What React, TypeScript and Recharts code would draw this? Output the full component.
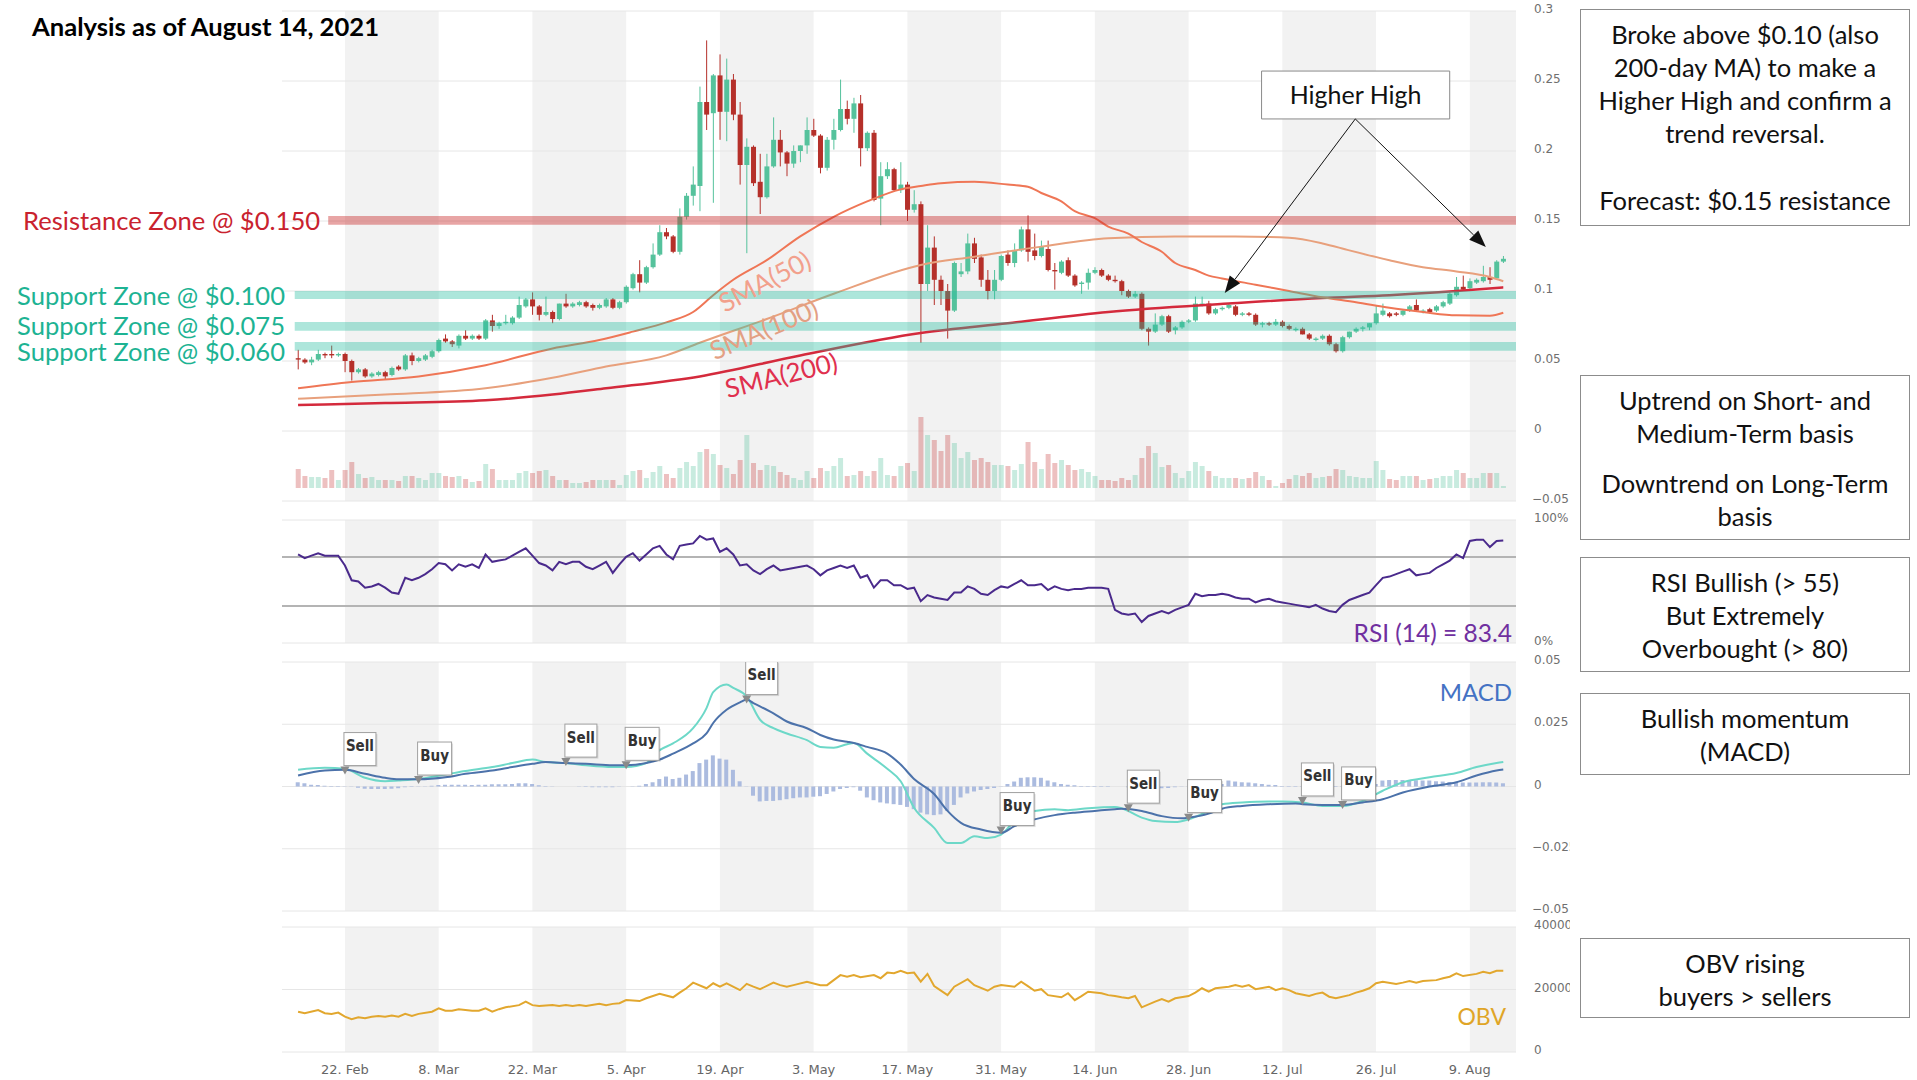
import React from "react";
import {
  ComposedChart,
  Bar,
  Line,
  XAxis,
  YAxis,
  CartesianGrid,
  ReferenceArea,
  ReferenceLine,
  Scatter,
} from "recharts";

// day index 0 = 15 Feb 2021, last candle = 14 Aug 2021
const tickDays = [7, 21, 35, 49, 63, 77, 91, 105, 119, 133, 147, 161, 175];
const tickLabels = ["22. Feb", "8. Mar", "22. Mar", "5. Apr", "19. Apr", "3. May", "17. May", "31. May", "14. Jun", "28. Jun", "12. Jul", "26. Jul", "9. Aug"];

const open = [
  0.052, 0.051, 0.049, 0.051, 0.055, 0.055, 0.054, 0.055, 0.050, 0.042, 0.044, 0.039, 0.040, 0.042,
  0.040, 0.046, 0.044, 0.054, 0.050, 0.051, 0.053, 0.057, 0.066, 0.064, 0.061, 0.068, 0.066, 0.068, 0.066, 0.079, 0.075, 0.077, 0.077, 0.081, 0.089, 0.094, 0.089, 0.083, 0.085, 0.080, 0.091, 0.089, 0.090, 0.092, 0.090,
  0.088, 0.089, 0.094, 0.088, 0.092, 0.102, 0.112, 0.106, 0.117, 0.126, 0.142, 0.139, 0.128, 0.153, 0.168, 0.175, 0.235, 0.227, 0.254, 0.228, 0.251, 0.226, 0.190, 0.203, 0.178, 0.167, 0.189, 0.208, 0.199, 0.191,
  0.200, 0.204, 0.215, 0.211, 0.188, 0.208, 0.215, 0.230, 0.223, 0.234, 0.202, 0.213, 0.166, 0.182, 0.187, 0.172, 0.176, 0.158, 0.162, 0.105, 0.131, 0.108, 0.100, 0.086, 0.112, 0.114, 0.134, 0.124, 0.108, 0.100, 0.108,
  0.126, 0.120, 0.129, 0.144, 0.129, 0.125, 0.130, 0.115, 0.113, 0.122, 0.111, 0.105, 0.106, 0.113, 0.115, 0.111, 0.108, 0.107, 0.100, 0.096, 0.098, 0.073, 0.071, 0.076, 0.082, 0.072, 0.074, 0.078, 0.079, 0.090,
  0.091, 0.084, 0.087, 0.088, 0.089, 0.083, 0.084, 0.083, 0.076, 0.077, 0.076, 0.078, 0.075, 0.072, 0.073, 0.069, 0.065, 0.066, 0.068, 0.062, 0.057, 0.067, 0.071, 0.073, 0.074, 0.077, 0.083, 0.084, 0.084, 0.083, 0.086,
  0.090, 0.085, 0.087, 0.086, 0.089, 0.091, 0.097, 0.103, 0.102, 0.106, 0.107, 0.110, 0.109, 0.121,
];
const high = [
  0.058, 0.052, 0.053, 0.058, 0.056, 0.061, 0.056, 0.056, 0.051, 0.045, 0.045, 0.042, 0.043, 0.043,
  0.046, 0.047, 0.055, 0.056, 0.053, 0.055, 0.058, 0.066, 0.069, 0.065, 0.069, 0.072, 0.069, 0.069, 0.080, 0.083, 0.078, 0.083, 0.082, 0.096, 0.095, 0.099, 0.090, 0.096, 0.086, 0.091, 0.098, 0.092, 0.093, 0.093, 0.091,
  0.091, 0.095, 0.095, 0.093, 0.104, 0.113, 0.122, 0.118, 0.134, 0.147, 0.145, 0.140, 0.159, 0.170, 0.189, 0.246, 0.279, 0.255, 0.269, 0.266, 0.255, 0.235, 0.209, 0.204, 0.198, 0.198, 0.224, 0.215, 0.200, 0.204,
  0.204, 0.224, 0.223, 0.212, 0.210, 0.223, 0.251, 0.236, 0.238, 0.240, 0.214, 0.215, 0.192, 0.192, 0.188, 0.192, 0.178, 0.172, 0.164, 0.147, 0.139, 0.111, 0.105, 0.121, 0.120, 0.141, 0.138, 0.126, 0.115, 0.115, 0.126,
  0.129, 0.134, 0.146, 0.154, 0.141, 0.136, 0.136, 0.120, 0.122, 0.124, 0.112, 0.107, 0.116, 0.117, 0.116, 0.112, 0.111, 0.108, 0.101, 0.100, 0.099, 0.074, 0.084, 0.083, 0.083, 0.075, 0.079, 0.080, 0.096, 0.096,
  0.093, 0.088, 0.089, 0.091, 0.090, 0.085, 0.085, 0.084, 0.078, 0.078, 0.080, 0.079, 0.076, 0.074, 0.074, 0.070, 0.067, 0.069, 0.069, 0.063, 0.068, 0.071, 0.074, 0.075, 0.077, 0.090, 0.091, 0.085, 0.085, 0.087, 0.090,
  0.094, 0.087, 0.088, 0.090, 0.093, 0.099, 0.110, 0.111, 0.109, 0.109, 0.118, 0.117, 0.122, 0.125,
];
const low = [
  0.044, 0.048, 0.047, 0.050, 0.052, 0.052, 0.053, 0.042, 0.036, 0.041, 0.038, 0.038, 0.039, 0.037,
  0.039, 0.043, 0.043, 0.047, 0.049, 0.050, 0.052, 0.056, 0.063, 0.060, 0.059, 0.065, 0.065, 0.065, 0.065, 0.071, 0.073, 0.076, 0.076, 0.080, 0.088, 0.083, 0.079, 0.082, 0.077, 0.079, 0.088, 0.088, 0.089, 0.088, 0.086,
  0.087, 0.088, 0.087, 0.087, 0.091, 0.101, 0.099, 0.105, 0.116, 0.125, 0.137, 0.127, 0.126, 0.151, 0.161, 0.157, 0.215, 0.163, 0.208, 0.207, 0.222, 0.176, 0.127, 0.175, 0.155, 0.166, 0.188, 0.189, 0.182, 0.188,
  0.192, 0.198, 0.210, 0.184, 0.186, 0.201, 0.214, 0.219, 0.213, 0.189, 0.200, 0.164, 0.147, 0.180, 0.171, 0.170, 0.150, 0.156, 0.063, 0.100, 0.090, 0.090, 0.066, 0.085, 0.110, 0.112, 0.120, 0.103, 0.094, 0.094, 0.107,
  0.118, 0.117, 0.128, 0.121, 0.122, 0.124, 0.114, 0.101, 0.112, 0.110, 0.103, 0.098, 0.101, 0.112, 0.110, 0.107, 0.106, 0.097, 0.095, 0.095, 0.072, 0.061, 0.070, 0.075, 0.070, 0.069, 0.073, 0.077, 0.078, 0.089,
  0.083, 0.083, 0.086, 0.087, 0.082, 0.082, 0.082, 0.075, 0.074, 0.075, 0.075, 0.074, 0.072, 0.071, 0.069, 0.065, 0.064, 0.065, 0.061, 0.056, 0.056, 0.066, 0.070, 0.071, 0.072, 0.076, 0.082, 0.081, 0.082, 0.082, 0.085,
  0.085, 0.084, 0.084, 0.085, 0.088, 0.090, 0.096, 0.100, 0.101, 0.105, 0.106, 0.105, 0.108, 0.120,
];
const close = [
  0.051, 0.049, 0.051, 0.055, 0.054, 0.054, 0.055, 0.050, 0.042, 0.044, 0.039, 0.041, 0.042, 0.039,
  0.045, 0.044, 0.054, 0.050, 0.052, 0.054, 0.057, 0.065, 0.064, 0.062, 0.068, 0.066, 0.068, 0.066, 0.079, 0.075, 0.077, 0.078, 0.081, 0.090, 0.094, 0.089, 0.083, 0.085, 0.080, 0.091, 0.089, 0.091, 0.092, 0.089, 0.088,
  0.090, 0.094, 0.088, 0.092, 0.103, 0.112, 0.106, 0.117, 0.126, 0.142, 0.139, 0.128, 0.153, 0.168, 0.176, 0.235, 0.226, 0.254, 0.228, 0.251, 0.226, 0.190, 0.203, 0.177, 0.167, 0.189, 0.208, 0.199, 0.191, 0.200,
  0.204, 0.215, 0.211, 0.188, 0.208, 0.215, 0.230, 0.223, 0.234, 0.202, 0.213, 0.165, 0.182, 0.187, 0.172, 0.176, 0.158, 0.162, 0.105, 0.131, 0.108, 0.100, 0.086, 0.120, 0.114, 0.134, 0.123, 0.108, 0.100, 0.108, 0.125,
  0.120, 0.129, 0.144, 0.128, 0.125, 0.132, 0.115, 0.114, 0.121, 0.111, 0.104, 0.106, 0.113, 0.115, 0.111, 0.108, 0.107, 0.100, 0.096, 0.098, 0.073, 0.071, 0.076, 0.082, 0.071, 0.074, 0.078, 0.079, 0.091, 0.091,
  0.084, 0.087, 0.088, 0.090, 0.083, 0.084, 0.083, 0.076, 0.077, 0.076, 0.078, 0.075, 0.073, 0.073, 0.069, 0.066, 0.066, 0.068, 0.062, 0.057, 0.067, 0.071, 0.073, 0.074, 0.077, 0.084, 0.086, 0.082, 0.083, 0.086, 0.089,
  0.086, 0.086, 0.085, 0.089, 0.092, 0.098, 0.103, 0.101, 0.107, 0.108, 0.110, 0.108, 0.121, 0.123,
];
// volume, relative units
const volume = [
  19, 12, 11, 11, 10, 18, 8, 18, 26, 14, 10, 11, 8, 8,
  8, 7, 12, 12, 10, 8, 15, 15, 12, 11, 12, 9, 6, 7, 24, 19, 8, 8, 8, 15, 17, 15, 17, 18, 12, 8, 8, 5, 5, 6, 8,
  8, 8, 8, 3, 13, 17, 18, 10, 16, 22, 14, 10, 20, 26, 22, 36, 39, 34, 23, 20, 14, 28, 53, 25, 18, 23, 22, 16, 13, 10,
  8, 17, 10, 20, 17, 22, 30, 12, 13, 17, 12, 17, 30, 13, 12, 22, 25, 17, 71, 53, 48, 37, 53, 45, 30, 36, 28, 30, 26, 23, 23,
  22, 18, 24, 46, 26, 19, 34, 25, 28, 23, 18, 19, 16, 12, 8, 8, 7, 10, 8, 13, 30, 42, 35, 21, 23, 15, 10, 17, 26, 22,
  17, 12, 10, 10, 10, 9, 10, 16, 12, 8, 2, 5, 9, 13, 12, 15, 10, 11, 12, 19, 18, 12, 11, 10, 10, 27, 18, 9, 8, 12, 12,
  12, 8, 9, 10, 12, 12, 18, 15, 10, 10, 15, 15, 15, 2,
];

const sma50 = [
  [0, 0.0305], [8, 0.035], [18, 0.039], [28, 0.047], [38, 0.059], [45, 0.065], [50, 0.071], [55, 0.0776], [59, 0.085],
  [62, 0.097], [65, 0.108], [70, 0.122], [75, 0.139], [80, 0.153], [85, 0.164], [90, 0.1726], [93, 0.175], [96, 0.177],
  [101, 0.178], [106, 0.176], [109, 0.1745], [111, 0.17], [114, 0.164], [116, 0.157], [119, 0.152], [121, 0.146],
  [124, 0.141], [126, 0.135], [129, 0.128], [131, 0.12], [134, 0.115], [136, 0.111], [138, 0.109], [143, 0.1045],
  [148, 0.1], [153, 0.0955], [158, 0.092], [163, 0.088], [168, 0.085], [173, 0.0826], [178, 0.0824], [180, 0.0845],
];
const sma100 = [
  [0, 0.023], [13, 0.026], [28, 0.0305], [38, 0.038], [46, 0.046], [55, 0.054], [60, 0.063], [70, 0.08], [80, 0.098],
  [93, 0.1186], [101, 0.1245], [111, 0.1317], [121, 0.1376], [131, 0.139], [140, 0.139], [148, 0.138], [153, 0.134],
  [157, 0.129], [163, 0.122], [168, 0.117], [173, 0.114], [178, 0.11], [180, 0.107],
];
const sma200 = [
  [0, 0.0186], [13, 0.02], [28, 0.022], [38, 0.026], [46, 0.0305], [60, 0.039], [75, 0.054], [93, 0.07], [106, 0.077],
  [121, 0.085], [139, 0.091], [153, 0.095], [163, 0.097], [173, 0.1], [180, 0.1026],
];

const rsi = [
  72, 69, 71, 73, 71, 71, 71, 63, 51, 50, 45, 46, 48, 45,
  41, 40, 53, 51, 53, 56, 60, 65, 64, 59, 64, 62, 64, 61, 72, 66, 67, 68, 71, 74, 77, 71, 65, 63, 59, 66, 64, 66, 66, 62, 60,
  63, 66, 57, 64, 70, 73, 67, 72, 77, 79, 72, 68, 79, 80, 81, 87, 84, 85, 74, 77, 72, 63, 64, 59, 56, 60, 63, 59, 60, 61,
  62, 63, 60, 55, 59, 61, 63, 61, 63, 53, 55, 45, 51, 51, 47, 47, 44, 45, 34, 39, 37, 36, 35, 41, 41, 46, 44, 40, 39, 43, 46,
  45, 48, 51, 47, 47, 48, 43, 46, 44, 43, 44, 44, 45, 45, 45, 44, 27, 24, 23, 24, 17, 22, 24, 26, 24, 27, 29, 31, 40, 38,
  39, 39, 40, 39, 37, 36, 36, 33, 35, 36, 34, 33, 32, 31, 30, 29, 31, 28, 26, 25, 31, 35, 37, 39, 41, 47, 53, 54, 56, 58, 60,
  55, 56, 57, 61, 64, 67, 72, 69, 83, 84, 84, 78, 83, 83.4,
];

const macd = [
  [0, 0.0067], [4, 0.0075], [7, 0.0071], [10, 0.0035], [13, 0.0021], [15, 0.0024], [18, 0.003], [22, 0.0048], [25, 0.0062],
  [29, 0.0078], [32, 0.0094], [35, 0.0108], [37, 0.0098], [40, 0.0094], [43, 0.0085], [47, 0.0078], [49, 0.0078], [52, 0.0094],
  [54, 0.0146], [56, 0.0173], [59, 0.0234], [61, 0.0315], [62, 0.0379], [64, 0.041], [65, 0.0396], [67, 0.0362], [69, 0.0268],
  [71, 0.0234], [73, 0.0213], [76, 0.0186], [78, 0.0159], [80, 0.0156], [82, 0.017], [83, 0.0175], [85, 0.0132], [88, 0.0071],
  [90, 0.0021], [92, -0.0085], [95, -0.0166], [97, -0.0227], [99, -0.0227], [101, -0.02], [103, -0.0207], [105, -0.0193],
  [107, -0.0139], [110, -0.0098], [113, -0.0091], [115, -0.0095], [118, -0.0087], [122, -0.0082], [123, -0.0087], [126, -0.0125],
  [128, -0.0139], [131, -0.0143], [133, -0.0132], [136, -0.0098], [138, -0.0071], [141, -0.0064], [145, -0.006], [147, -0.006],
  [150, -0.0064], [153, -0.0078], [156, -0.0078], [159, -0.0058], [162, -0.0017], [165, 0.0017], [169, 0.0037], [173, 0.0054],
  [176, 0.0078], [179, 0.0094], [180, 0.0098],
];
const signal = [
  [0, 0.0044], [4, 0.0064], [7, 0.0067], [10, 0.0051], [13, 0.0035], [15, 0.0029], [18, 0.0029], [22, 0.0037], [25, 0.0051],
  [29, 0.0064], [32, 0.0078], [35, 0.0091], [37, 0.0098], [40, 0.0094], [43, 0.0091], [47, 0.0085], [49, 0.0085], [52, 0.0094],
  [54, 0.0108], [56, 0.0132], [59, 0.0173], [61, 0.0213], [62, 0.0255], [64, 0.0308], [66, 0.0338], [67, 0.0349], [68, 0.0335],
  [71, 0.0294], [73, 0.0261], [76, 0.0234], [78, 0.0207], [80, 0.0189], [82, 0.018], [83, 0.0175], [85, 0.0159], [88, 0.0132],
  [90, 0.0088], [92, 0.003], [95, -0.003], [97, -0.0098], [99, -0.0146], [102, -0.0173], [105, -0.0186], [107, -0.0159],
  [110, -0.0132], [113, -0.0115], [116, -0.0105], [119, -0.0098], [122, -0.0091], [123, -0.0089], [126, -0.0098], [129, -0.0119],
  [132, -0.0128], [133, -0.0125], [136, -0.0109], [138, -0.0089], [141, -0.0078], [145, -0.0071], [149, -0.0068], [150, -0.0071],
  [153, -0.0074], [156, -0.0074], [159, -0.0064], [162, -0.0051], [165, -0.0024], [169, 0], [173, 0.0017], [176, 0.0044],
  [179, 0.0064], [180, 0.0068],
];
const histogram = [
  0.0017, 0.0013, 0.0007, 0.0006, 0.0003, 0.0002, 0.0002, 0.0001, -0.0001, -0.0005, -0.0009, -0.001, -0.001, -0.001,
  -0.0009, -0.0007, -0.0003, -0.0002, -0.0001, 0.0001, 0.0003, 0.0006, 0.0007, 0.0007, 0.0007, 0.0007, 0.0006, 0.0007, 0.0007, 0.0009,
  0.0009, 0.0009, 0.001, 0.0013, 0.0013, 0.001, 0.0005, 0.0002, 0.0001, 0, 0, 0, -0.0001, -0.0002, -0.0003,
  -0.0003, -0.0003, -0.0003, -0.0001, 0, 0.0001, 0.0003, 0.001, 0.0017, 0.003, 0.004, 0.003, 0.0035, 0.0048, 0.0062,
  0.0094, 0.0108, 0.0125, 0.0112, 0.0108, 0.0067, 0.0021, -0.0001, -0.0037, -0.006, -0.0058, -0.0058, -0.0055, -0.0051, -0.0047,
  -0.0044, -0.0044, -0.0041, -0.0039, -0.003, -0.002, -0.001, -0.0006, -0.0003, -0.0017, -0.0044, -0.0055, -0.0064, -0.0068, -0.0071,
  -0.0074, -0.0082, -0.0091, -0.0105, -0.0112, -0.0115, -0.0112, -0.0098, -0.0074, -0.0044, -0.0028, -0.002, -0.0014, -0.001, -0.0006, -0.0001,
  0.001, 0.002, 0.0035, 0.0037, 0.0037, 0.0035, 0.0024, 0.0017, 0.001, 0.0007, 0.0005, 0.0002, 0.0002, 0.0002, 0.0002,
  0.0002, 0, 0, -0.0003, -0.0007, -0.001, -0.0012, -0.001, -0.0007, -0.0006, -0.0003, -0.0001, 0.0001, 0.0003, 0.0003,
  0.0005, 0.0006, 0.001, 0.0024, 0.002, 0.0017, 0.0016, 0.0013, 0.001, 0.0007, 0.0006, 0.0002, 0.0002, 0.0002, 0.0002,
  0.0002, 0.0002, 0.0002, 0.0002, 0.0002, 0.0002, 0.0002, 0.0002, 0.0002, 0.0005, 0.001, 0.0024, 0.0026, 0.0026, 0.0026, 0.0026,
  0.0025, 0.0024, 0.0024, 0.0021, 0.002, 0.0018, 0.0017, 0.0016, 0.0016, 0.0016, 0.0017, 0.0017, 0.0016, 0.0013,
];
const flags = [
  [7, 0.0064, "Sell"], [18, 0.0026, "Buy"], [40, 0.0098, "Sell"], [49, 0.0085, "Buy"], [67, 0.0349, "Sell"],
  [105, -0.0177, "Buy"], [124, -0.0087, "Sell"], [133, -0.0125, "Buy"], [150, -0.0058, "Sell"], [156, -0.0074, "Buy"],
];

const obv = [
  [0, 12900], [1, 12400], [3, 13400], [4, 12400], [5, 12200], [6, 12600], [7, 11300], [8, 10500], [9, 11100], [10, 10800],
  [11, 11300], [12, 11500], [13, 11300], [14, 11700], [15, 11300], [16, 12200], [17, 11500], [18, 12200], [20, 12900],
  [21, 14000], [22, 13200], [23, 13200], [24, 13700], [26, 13200], [27, 13200], [28, 14000], [29, 12900], [30, 13700],
  [31, 14300], [33, 15000], [34, 16100], [35, 15000], [36, 14700], [38, 15000], [39, 14700], [40, 15000], [41, 14700],
  [42, 15000], [43, 14700], [45, 15400], [46, 15000], [47, 15400], [48, 15600], [49, 16600], [51, 16300], [52, 17200],
  [53, 17900], [54, 18600], [56, 17500], [57, 19000], [58, 20400], [59, 22200], [61, 20400], [62, 22000], [63, 20900],
  [64, 22000], [66, 19800], [67, 21800], [68, 20900], [69, 20100], [71, 22200], [72, 21400], [73, 20900], [74, 21400],
  [76, 22500], [78, 21400], [79, 21400], [80, 23000], [81, 24600], [82, 24100], [83, 24600], [84, 23900], [86, 24600],
  [87, 23600], [88, 25400], [89, 25200], [90, 26000], [91, 25200], [92, 25400], [93, 22500], [94, 25000], [95, 21100],
  [97, 18200], [98, 20900], [100, 23300], [101, 21400], [103, 19600], [104, 20900], [105, 21400], [107, 20900],
  [108, 22500], [109, 21100], [110, 19600], [111, 20100], [112, 18200], [114, 17500], [115, 18800], [116, 16600],
  [117, 17900], [118, 19300], [120, 18800], [121, 18200], [122, 17900], [123, 17500], [124, 17200], [125, 17900],
  [126, 14300], [128, 16100], [129, 16900], [130, 16100], [131, 17200], [133, 17900], [134, 19000], [135, 20400],
  [136, 19300], [137, 20400], [139, 20900], [140, 21400], [141, 20900], [142, 21400], [143, 20100], [145, 20900],
  [146, 19800], [147, 20400], [148, 19800], [149, 18800], [151, 17900], [152, 18600], [153, 19000], [154, 17700],
  [155, 17200], [157, 18200], [158, 19000], [159, 19600], [160, 20400], [161, 22000], [162, 22500], [164, 21800],
  [165, 22200], [166, 22700], [167, 22200], [168, 22700], [170, 23000], [171, 23600], [172, 24100], [173, 25200],
  [174, 24300], [176, 25000], [177, 25700], [178, 25200], [179, 26000], [180, 26000],
];

// price zones: band low/high and the first day they are drawn from
const resistance = { lo: 0.1474, hi: 0.1536, from: 4.5 };
const supports = [
  { lo: 0.0943, hi: 0.1, from: -0.5 },
  { lo: 0.0716, hi: 0.0779, from: -0.5 },
  { lo: 0.0574, hi: 0.0636, from: -0.5 },
];
const priceTicks = [-0.05, 0, 0.05, 0.1, 0.15, 0.2, 0.25, 0.3];
const macdTicks = [-0.05, -0.025, 0, 0.025, 0.05];

const GREEN = "#55C29C";
const RED = "#B5302A";
const X_DOMAIN: [number, number] = [-2.4, 181.9];
const CHART_W = 1570;
const MARGIN_L = 282;
const AXIS_W = 54;
const GRID = "#E6E6E6";
const BAND = "#F2F2F2";

const rows = close.map((c, i) => ({ day: i, o: open[i], h: high[i], l: low[i], c, vol: volume[i] }));
const toPts = (arr: number[][]) => arr.map(([day, v]) => ({ day, v }));
const rsiRows = rsi.map((v, day) => ({ day, v }));
const histRows = histogram.map((v, day) => ({ day, v }));
const flagPts = flags.map(([day, v, t]) => ({ day, v, t }));

const bands: [number, number][] = [];
for (let k = 0; k < tickDays.length; k += 2) bands.push([tickDays[k], tickDays[k + 1] ?? X_DOMAIN[1]]);

const fmtNum = (v: number) => (v < 0 ? "\u2212" + String(-v) : String(v));

function YTick(props: any) {
  const { x, y, payload, fmt } = props;
  const neg = payload.value < 0;
  return (
    <text x={x + (neg ? 16 : 18)} y={y - 1.5} fill="#6f6f6f" fontSize={12} fontFamily="DejaVu Sans" dominantBaseline="middle">
      {fmt(payload.value)}
    </text>
  );
}

function XTick(props: any) {
  const { x, y, payload } = props;
  const idx = tickDays.indexOf(payload.value);
  return (
    <text x={x} y={y + 18} fill="#666" fontSize={13} fontFamily="DejaVu Sans" textAnchor="middle" dominantBaseline="middle">
      {tickLabels[idx]}
    </text>
  );
}

function Candle(p: any) {
  const d = p.payload;
  if (!d || p.height == null) return null;
  const top = Math.min(p.y, p.y + p.height);
  const span = Math.abs(p.height);
  const k = span / (d.h - d.l);
  const yOf = (v: number) => top + (d.h - v) * k;
  const col = d.c >= d.o ? GREEN : RED;
  const cx = p.x + p.width / 2;
  const b1 = yOf(Math.max(d.o, d.c));
  const b2 = yOf(Math.min(d.o, d.c));
  return (
    <g>
      <line x1={cx} x2={cx} y1={top} y2={top + span} stroke={col} strokeWidth={1} />
      <rect x={p.x} y={b1} width={p.width} height={Math.max(1.2, b2 - b1)} fill={col} />
    </g>
  );
}

function VolBar(p: any) {
  const d = p.payload;
  if (!d || p.height == null) return null;
  const top = Math.min(p.y, p.y + p.height);
  const up = d.c >= d.o;
  return <rect x={p.x} y={top} width={p.width} height={Math.abs(p.height)} fill={up ? "rgba(85,194,156,0.32)" : "rgba(200,60,60,0.32)"} />;
}

function Arrow(p: any) {
  const { x1, y1, x2, y2 } = p;
  if (x1 == null) return null;
  const a = Math.atan2(y2 - y1, x2 - x1);
  const L = 17;
  const Wd = 6.5;
  const bx = x2 - L * Math.cos(a);
  const by = y2 - L * Math.sin(a);
  const px = -Math.sin(a) * Wd;
  const py = Math.cos(a) * Wd;
  return (
    <g>
      <line x1={x1} y1={y1} x2={bx} y2={by} stroke="#111" strokeWidth={1} />
      <polygon points={`${x2},${y2} ${bx + px},${by + py} ${bx - px},${by - py}`} fill="#111" />
    </g>
  );
}

function Flag(p: any) {
  const { cx, cy, payload } = p;
  if (cx == null || !payload) return null;
  const w = payload.t === "Buy" ? 34 : 32;
  return (
    <g>
      <rect x={cx + 0.5} y={cy - 36.5} width={w} height={33} fill="rgba(0,0,0,0.12)" />
      <rect x={cx - 1} y={cy - 38} width={w} height={33} fill="#fff" stroke="#a0a0a0" strokeWidth={1} />
      <text
        x={cx - 1 + w / 2}
        y={cy - 24}
        textAnchor="middle"
        dominantBaseline="middle"
        fontSize={15}
        fontWeight={700}
        fontFamily="'Liberation Sans Narrow', 'DejaVu Sans Condensed', sans-serif"
        fill="#333"
      >
        {payload.t}
      </text>
      <polygon points={`${cx - 4.5},${cy - 4} ${cx + 4.5},${cy - 4} ${cx},${cy + 4}`} fill="#8a8a8a" />
    </g>
  );
}

const bandAreas = () =>
  bands.map(([a, b]) => (
    <ReferenceArea key={`b${a}`} x1={a} x2={b} fill={BAND} fillOpacity={1} stroke="none" ifOverflow="hidden" zIndex={-200} />
  ));

const yAxisCommon = {
  orientation: "right" as const,
  width: AXIS_W,
  axisLine: false,
  tickLine: false,
  tickSize: 0,
  tickMargin: 0,
  interval: 0 as const,
  allowDataOverflow: true,
};

function PricePanel() {
  return (
    <ComposedChart width={CHART_W} height={505} data={rows} margin={{ top: 11, right: 0, bottom: 4, left: MARGIN_L }}>
      <XAxis dataKey="day" type="number" domain={X_DOMAIN} allowDataOverflow hide />
      <XAxis xAxisId="vol" dataKey="day" type="number" domain={X_DOMAIN} allowDataOverflow hide />
      <YAxis {...yAxisCommon} domain={[-0.05, 0.3]} ticks={priceTicks} tick={(t: any) => <YTick {...t} fmt={fmtNum} />} />
      <YAxis yAxisId="vol" domain={[-13, 477]} hide allowDataOverflow />
      {bandAreas()}
      <CartesianGrid vertical={false} stroke={GRID} />
      <Bar xAxisId="vol" yAxisId="vol" dataKey="vol" barSize={5} shape={(p: any) => <VolBar {...p} />} isAnimationActive={false} />
      <Bar dataKey={(d: any) => [d.l, d.h]} barSize={5} shape={(p: any) => <Candle {...p} />} isAnimationActive={false} />
      <Line data={toPts(sma200)} dataKey="v" type="monotone" stroke="#D42A3C" strokeWidth={2.5} dot={false} isAnimationActive={false} />
      <Line data={toPts(sma100)} dataKey="v" type="monotone" stroke="#E8A07C" strokeWidth={2} dot={false} isAnimationActive={false} />
      <Line data={toPts(sma50)} dataKey="v" type="monotone" stroke="#EF7656" strokeWidth={2} dot={false} isAnimationActive={false} />
      <ReferenceArea
        x1={resistance.from}
        x2={X_DOMAIN[1]}
        y1={resistance.lo}
        y2={resistance.hi}
        fill="rgba(200,40,40,0.42)"
        fillOpacity={1}
        stroke="none"
        ifOverflow="visible"
        zIndex={450}
      />
      {supports.map((s) => (
        <ReferenceArea
          key={s.hi}
          x1={s.from}
          x2={X_DOMAIN[1]}
          y1={s.lo}
          y2={s.hi}
          fill="rgba(40,190,160,0.38)"
          fillOpacity={1}
          stroke="none"
          ifOverflow="visible"
          zIndex={450}
        />
      ))}
      <ReferenceArea
        x1={143.9}
        x2={172}
        y1={0.2229}
        y2={0.2571}
        fill="#fff"
        fillOpacity={1}
        stroke="#8a8a8a"
        strokeWidth={1}
        ifOverflow="visible"
        zIndex={460}
        label={{ value: "Higher High", position: "center", fontSize: 25, fontFamily: "Lato", fill: "#111" }}
      />
      <ReferenceLine
        segment={[{ x: 157.9, y: 0.2229 }, { x: 138.4, y: 0.0986 }]}
        ifOverflow="visible"
        zIndex={470}
        shape={(p: any) => <Arrow {...p} />}
      />
      <ReferenceLine
        segment={[{ x: 157.9, y: 0.2229 }, { x: 177.4, y: 0.1314 }]}
        ifOverflow="visible"
        zIndex={470}
        shape={(p: any) => <Arrow {...p} />}
      />
    </ComposedChart>
  );
}

function RsiPanel() {
  return (
    <ComposedChart width={CHART_W} height={145} data={rsiRows} margin={{ top: 15, right: 0, bottom: 7, left: MARGIN_L }}>
      <XAxis dataKey="day" type="number" domain={X_DOMAIN} allowDataOverflow hide />
      <YAxis {...yAxisCommon} domain={[0, 100]} ticks={[0, 100]} tick={(t: any) => <YTick {...t} fmt={(v: number) => `${v}%`} />} />
      {bandAreas()}
      <CartesianGrid vertical={false} stroke={GRID} />
      <ReferenceLine y={70} stroke="#B4B4B4" strokeWidth={2} />
      <ReferenceLine y={30} stroke="#B4B4B4" strokeWidth={2} />
      <Line dataKey="v" type="linear" stroke="#4A2A8C" strokeWidth={2} dot={false} isAnimationActive={false} />
    </ComposedChart>
  );
}

function MacdPanel() {
  return (
    <ComposedChart width={CHART_W} height={265} data={histRows} margin={{ top: 12, right: 0, bottom: 4, left: MARGIN_L }}>
      <XAxis dataKey="day" type="number" domain={X_DOMAIN} allowDataOverflow hide />
      <YAxis {...yAxisCommon} domain={[-0.05, 0.05]} ticks={macdTicks} tick={(t: any) => <YTick {...t} fmt={fmtNum} />} />
      {bandAreas()}
      <CartesianGrid vertical={false} stroke={GRID} />
      <Bar dataKey="v" barSize={4} fill="#ABBBDF" isAnimationActive={false} />
      <Line data={toPts(macd)} dataKey="v" type="monotone" stroke="#6DD8C8" strokeWidth={2} dot={false} isAnimationActive={false} />
      <Line data={toPts(signal)} dataKey="v" type="monotone" stroke="#4C72AA" strokeWidth={2} dot={false} isAnimationActive={false} />
      <Scatter data={flagPts} dataKey="v" shape={(p: any) => <Flag {...p} />} isAnimationActive={false} />
    </ComposedChart>
  );
}

function ObvPanel() {
  return (
    <ComposedChart width={CHART_W} height={165} data={toPts(obv)} margin={{ top: 12, right: 0, bottom: 0, left: MARGIN_L }}>
      <XAxis
        dataKey="day"
        type="number"
        domain={X_DOMAIN}
        allowDataOverflow
        ticks={tickDays}
        interval={0}
        height={28}
        axisLine={false}
        tickLine={false}
        tickSize={0}
        tickMargin={0}
        tick={(t: any) => <XTick {...t} />}
      />
      <YAxis {...yAxisCommon} domain={[0, 40000]} ticks={[0, 20000, 40000]} tick={(t: any) => <YTick {...t} fmt={fmtNum} />} />
      {bandAreas()}
      <CartesianGrid vertical={false} stroke={GRID} />
      <Line dataKey="v" type="linear" stroke="#E2A72E" strokeWidth={2} dot={false} isAnimationActive={false} />
    </ComposedChart>
  );
}

const boxStyle: React.CSSProperties = {
  position: "absolute",
  left: 1580,
  width: 330,
  border: "1.5px solid #8c8c8c",
  background: "#fff",
  boxSizing: "border-box",
  textAlign: "center",
  fontSize: 25.5,
  lineHeight: "33px",
  color: "#111",
  paddingTop: 8,
  whiteSpace: "nowrap",
};

function Note({ top, height, lines }: { top: number; height: number; lines: (string | null)[] }) {
  return (
    <div style={{ ...boxStyle, top, height }}>
      {lines.map((l, i) => (l === null ? <div key={i} style={{ height: 17 }} /> : <div key={i}>{l}</div>))}
    </div>
  );
}

const txt = (left: number, cy: number, size: number, color: string, s: string, extra: React.CSSProperties = {}) => (
  <div
    style={{
      position: "absolute",
      left,
      top: cy - 12,
      height: 24,
      lineHeight: "24px",
      fontSize: size,
      color,
      whiteSpace: "nowrap",
      ...extra,
    }}
  >
    {s}
  </div>
);

export default function App() {
  return (
    <div
      style={{
        position: "fixed",
        left: 0,
        top: 0,
        width: 1917,
        height: 1080,
        background: "#fff",
        overflow: "hidden",
        fontFamily: "Lato, 'Open Sans', sans-serif",
      }}
    >
      <div style={{ position: "absolute", left: 0, top: 0, width: CHART_W, height: 1080, overflow: "hidden" }}>
        <div style={{ position: "absolute", left: 0, top: 0 }}>
          <PricePanel />
        </div>
        <div style={{ position: "absolute", left: 0, top: 505 }}>
          <RsiPanel />
        </div>
        <div style={{ position: "absolute", left: 0, top: 650 }}>
          <MacdPanel />
        </div>
        <div style={{ position: "absolute", left: 0, top: 915 }}>
          <ObvPanel />
        </div>
      </div>

      <svg style={{ position: "absolute", left: 0, top: 0, pointerEvents: "none" }} width={1917} height={1080}>
        <text x={766} y={284} transform="rotate(-27.8 766 284)" textAnchor="middle" dominantBaseline="middle" fontSize={26} fontFamily="Lato" fill="#F2A08C">
          SMA(50)
        </text>
        <text x={765} y={332} transform="rotate(-23 765 332)" textAnchor="middle" dominantBaseline="middle" fontSize={26} fontFamily="Lato" fill="#E3A083">
          SMA(100)
        </text>
        <text x={782} y={378} transform="rotate(-14 782 378)" textAnchor="middle" dominantBaseline="middle" fontSize={26} fontFamily="Lato" fill="#E0304E">
          SMA(200)
        </text>
      </svg>

      {txt(32, 26, 25.6, "#000", "Analysis as of August 14, 2021", { fontWeight: 700 })}
      {txt(23, 220, 25.6, "#C9222E", "Resistance Zone @ $0.150")}
      {txt(17, 295, 25.6, "#1DB393", "Support Zone @ $0.100")}
      {txt(17, 325, 25.6, "#1DB393", "Support Zone @ $0.075")}
      {txt(17, 351, 25.6, "#1DB393", "Support Zone @ $0.060")}

      {txt(1312, 633, 24.5, "#7030A0", "RSI (14) = 83.4", { width: 200, textAlign: "right" })}
      {txt(1312, 692, 24, "#4472C4", "MACD", { width: 200, textAlign: "right" })}
      {txt(1306, 1016, 23, "#E0A526", "OBV", { width: 200, textAlign: "right" })}

      <Note top={9} height={217} lines={["Broke above $0.10 (also", "200-day MA) to make a", "Higher High and confirm a", "trend reversal.", null, null, "Forecast: $0.15 resistance"]} />
      <Note top={375} height={165} lines={["Uptrend on Short- and", "Medium-Term basis", null, "Downtrend on Long-Term", "basis"]} />
      <Note top={557} height={115} lines={["RSI Bullish (> 55)", "But Extremely", "Overbought (> 80)"]} />
      <Note top={693} height={82} lines={["Bullish momentum", "(MACD)"]} />
      <Note top={938} height={80} lines={["OBV rising", "buyers > sellers"]} />
    </div>
  );
}
